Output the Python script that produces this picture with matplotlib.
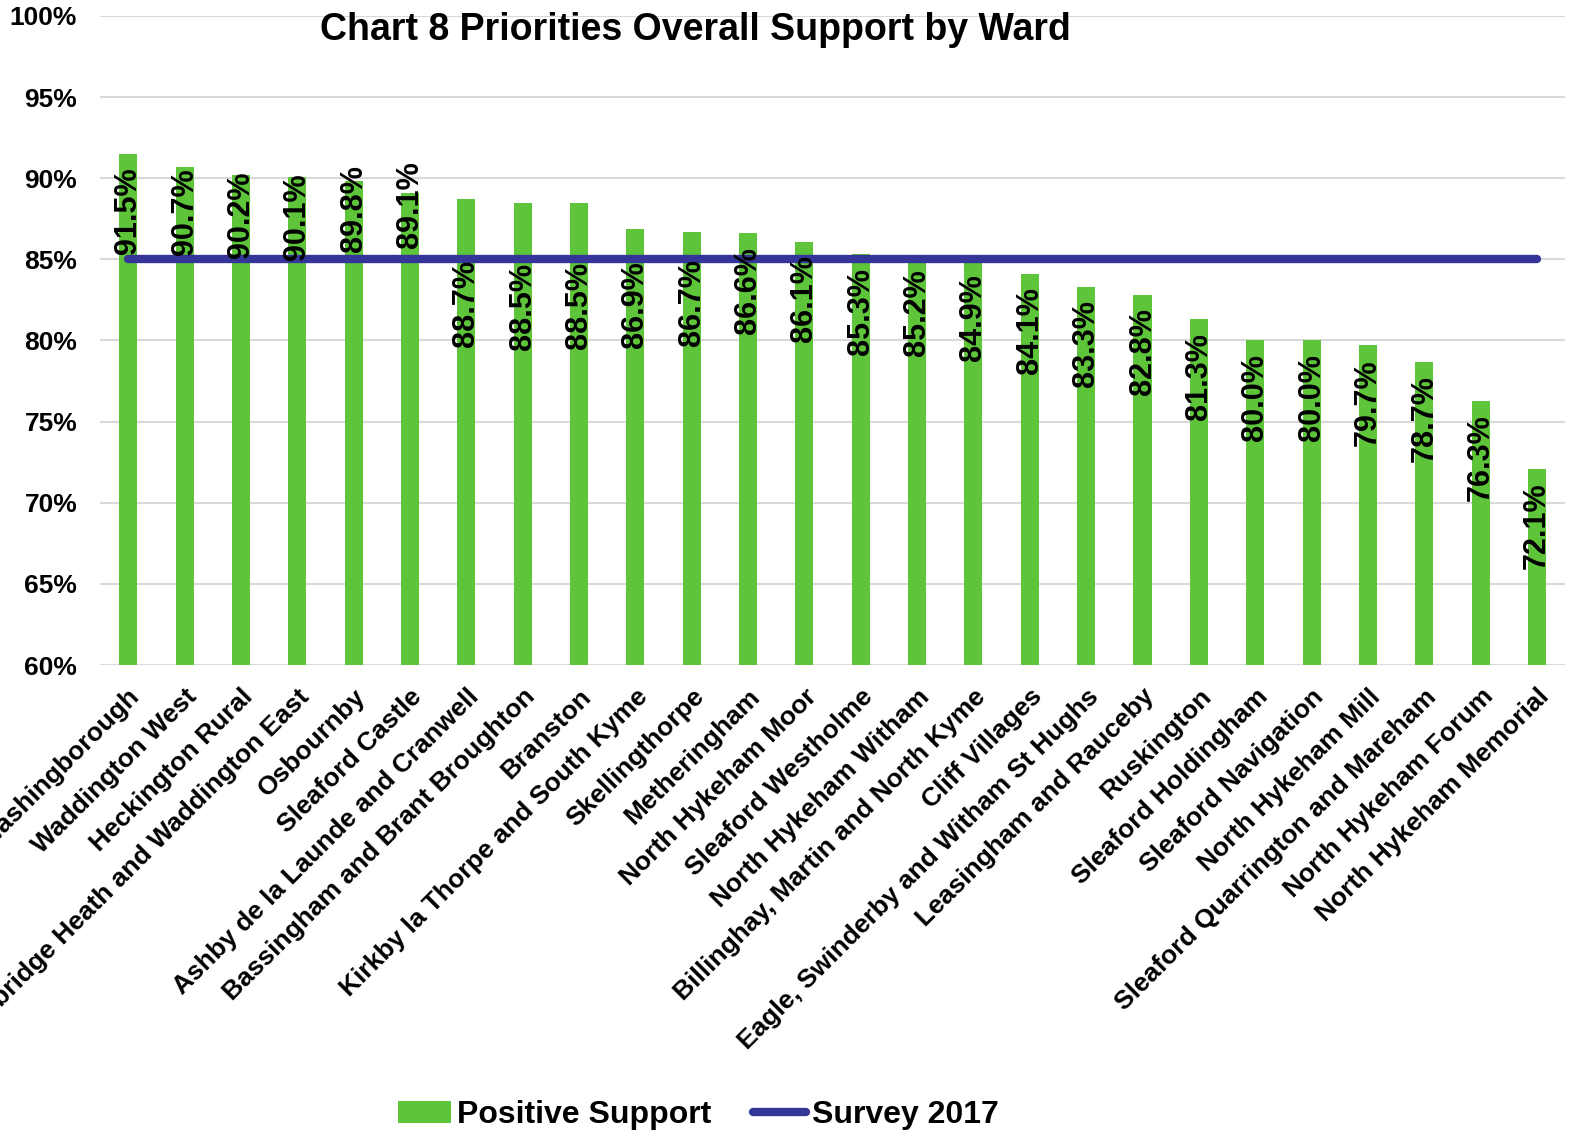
import matplotlib
matplotlib.use('Agg')
import matplotlib.pyplot as plt
import numpy as np

plt.rcParams['font.family'] = ['Liberation Sans', 'DejaVu Sans']
plt.rcParams['font.weight'] = 'bold'

wards = ['Washingborough', 'Waddington West', 'Heckington Rural',
         'Bracebridge Heath and Waddington East', 'Osbournby', 'Sleaford Castle',
         'Ashby de la Launde and Cranwell', 'Bassingham and Brant Broughton',
         'Branston', 'Kirkby la Thorpe and South Kyme', 'Skellingthorpe',
         'Metheringham', 'North Hykeham Moor', 'Sleaford Westholme',
         'North Hykeham Witham', 'Billinghay, Martin and North Kyme',
         'Cliff Villages', 'Eagle, Swinderby and Witham St Hughs',
         'Leasingham and Rauceby', 'Ruskington', 'Sleaford Holdingham',
         'Sleaford Navigation', 'North Hykeham Mill',
         'Sleaford Quarrington and Mareham', 'North Hykeham Forum',
         'North Hykeham Memorial']
support = [91.5, 90.7, 90.2, 90.1, 89.8, 89.1, 88.7, 88.5, 88.5, 86.9, 86.7,
           86.6, 86.1, 85.3, 85.2, 84.9, 84.1, 83.3, 82.8, 81.3, 80.0, 80.0,
           79.7, 78.7, 76.3, 72.1]
survey_2017 = 85.0

green = '#5EC43A'
navy = '#343499'

fig = plt.figure(figsize=(15.73, 11.31), dpi=100)
ax = fig.add_axes([0.0636, 0.412, 0.9314, 0.5739])

x = np.arange(len(wards))
bars = ax.bar(x, support, width=0.32, color=green, label='Positive Support', zorder=2)
line, = ax.plot([x[0], x[-1]], [survey_2017] * 2, color=navy, lw=6,
                solid_capstyle='round', label='Survey 2017', zorder=3)

# labels sit inside the bar top; a few were moved by hand in the original
nudge = [0, -12, -17, -17, -30, -45, 47, 47, 46, 19, 14] + [0] * 15
for xi, v, n in zip(x, support, nudge):
    ax.annotate(f'{v:.1f}%', (xi, v), xytext=(0, -41 - n * 0.72),
                textcoords='offset points', rotation=90, ha='center',
                va='center', fontsize=22, fontweight='bold', zorder=4)

ax.set_ylim(60, 100)
ax.set_xlim(-0.5, len(wards) - 0.5)
ax.set_yticks(np.arange(60, 101, 5))
ax.set_yticklabels([f'{t}%' for t in range(60, 101, 5)], fontsize=19,
                   fontweight='bold')
ax.yaxis.grid(True, color='#D9D9D9', lw=1.5, zorder=0)
ax.set_axisbelow(True)
ax.tick_params(length=0, pad=16.5)
ax.tick_params(axis='x', pad=14)
ax.set_xticks(x)
ax.set_xticklabels(wards, rotation=45, ha='right', rotation_mode='anchor',
                   fontsize=19, fontweight='bold')
for s in ax.spines.values():
    s.set_visible(False)

fig.text(0.442, 1 - 30 / 1131, 'Chart 8 Priorities Overall Support by Ward',
         ha='center', va='center', fontsize=27, fontweight='bold')

fig.legend([bars, line], ['Positive Support', 'Survey 2017'], loc='center',
           bbox_to_anchor=(0.444, 0.014), ncol=2, frameon=False,
           prop={'size': 23, 'weight': 'bold'}, handlelength=1.65,
           handletextpad=0.2, columnspacing=1.3)

fig.savefig('out.png', dpi=100)
